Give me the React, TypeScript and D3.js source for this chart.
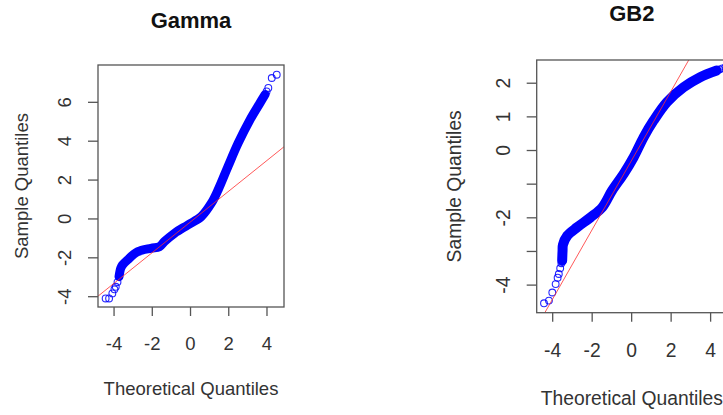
import React from "react";
import * as d3 from "d3";

// ---------- Data ----------
// Gamma panel: [theoretical quantile, sample quantile]
const gammaTailLow: [number, number][] = [
  [-4.44, -4.09], [-4.26, -4.09], [-4.09, -3.83], [-3.98, -3.62], [-3.91, -3.49], [-3.82, -3.25],
];
const gammaBand: [number, number][] = [
  [-3.74, -2.97], [-3.65, -2.54], [-3.56, -2.37], [-3.3, -2.11], [-2.77, -1.69],
  [-2.07, -1.51], [-1.63, -1.43], [-1.37, -1.17], [-0.84, -0.74], [-0.14, -0.31],
  [0.56, 0.12], [1.09, 0.81], [1.44, 1.49], [1.96, 2.7], [2.49, 3.9],
  [3.11, 5.1], [3.63, 5.96], [3.9, 6.4],
];
const gammaTailHigh: [number, number][] = [
  [3.98, 6.56], [4.07, 6.74], [4.25, 7.25], [4.51, 7.42],
];
const gammaLine = { intercept: -0.15, slope: 0.79 };

// GB2 panel
const gb2TailLow: [number, number][] = [
  [-4.44, -4.54], [-4.19, -4.46], [-4.02, -4.22], [-3.85, -3.97], [-3.75, -3.78],
  [-3.69, -3.67], [-3.62, -3.5], [-3.56, -3.35],
];
const gb2Band: [number, number][] = [
  [-3.52, -3.27], [-3.5, -2.98], [-3.48, -2.8], [-3.26, -2.53], [-2.76, -2.28],
  [-2.09, -1.99], [-1.49, -1.69], [-0.99, -1.19], [-0.4, -0.69], [0.1, -0.2],
  [0.61, 0.4], [1.11, 0.89], [1.79, 1.44], [2.63, 1.88], [3.47, 2.18],
  [4.31, 2.38],
];
const gb2TailHigh: [number, number][] = [[4.45, 2.41], [4.6, 2.44], [4.75, 2.47]];
const gb2Line = { intercept: -0.29, slope: 1.03 };

const gammaXTicks = [-4, -2, 0, 2, 4];
const gammaYTicks = [-4, -2, 0, 2, 4, 6];
const gammaYLabels = ["-4", "-2", "0", "2", "4", "6"];
const gb2XTicks = [-4, -2, 0, 2, 4];
const gb2YTicks = [-4, -3, -2, -1, 0, 1, 2];
const gb2YLabels = ["-4", "", "-2", "", "0", "1", "2"];

const FONT = "'Liberation Sans', Arial, sans-serif";
const TXT = "#333";
const BLUE = "#0000ff";

type PanelProps = {
  title: string;
  titleY: number;
  xDomain: [number, number];
  xRange: [number, number];
  yDomain: [number, number];
  yRange: [number, number];
  xTicks: number[];
  yTicks: number[];
  yLabels: string[];
  tailLow: [number, number][];
  band: [number, number][];
  tailHigh: [number, number][];
  line: { intercept: number; slope: number };
  bandWidth: number;
  fontSize: number;
  xTickBase: number;
  xLabelBase: number;
  yTickBase: number;
  yLabelBase: number;
  id: string;
};

function Panel(p: PanelProps) {
  const x = d3.scaleLinear().domain(p.xDomain).range(p.xRange);
  const y = d3.scaleLinear().domain(p.yDomain).range(p.yRange);
  const [x0, x1] = p.xRange;
  const [y1, y0] = p.yRange;
  const cx = (x0 + x1) / 2;
  const cy = (y0 + y1) / 2;
  const bandPath = d3
    .line<[number, number]>()
    .x((d) => x(d[0]))
    .y((d) => y(d[1]))
    .curve(d3.curveCatmullRom.alpha(0.5))(p.band) as string;
  const lx0 = p.xDomain[0];
  const lx1 = p.xDomain[1];
  const tick = 9;
  return (
    <g>
      <defs>
        <clipPath id={p.id}>
          <rect x={x0} y={y0} width={x1 - x0} height={y1 - y0} />
        </clipPath>
      </defs>
      <text
        x={cx}
        y={p.titleY}
        textAnchor="middle"
        fontFamily={FONT}
        fontWeight="bold"
        fontSize={22}
        fill="#111"
      >
        {p.title}
      </text>
      <g clipPath={`url(#${p.id})`}>
        <path d={bandPath} fill="none" stroke={BLUE} strokeWidth={p.bandWidth} strokeLinecap="round" strokeLinejoin="round" />
        {[...p.tailLow, ...p.tailHigh].map((d, i) => (
          <circle key={i} cx={x(d[0])} cy={y(d[1])} r={3.4} fill="none" stroke={BLUE} strokeWidth={1.1} opacity={0.85} />
        ))}
        <line
          x1={x(lx0)}
          y1={y(p.line.intercept + p.line.slope * lx0)}
          x2={x(lx1)}
          y2={y(p.line.intercept + p.line.slope * lx1)}
          stroke="#ff3030"
          strokeOpacity={0.8}
          strokeWidth={1}
        />
      </g>
      <rect x={x0} y={y0} width={x1 - x0} height={y1 - y0} fill="none" stroke="#555" strokeWidth={1.3} />
      {p.xTicks.map((t) => (
        <g key={"x" + t}>
          <line x1={x(t)} x2={x(t)} y1={y1} y2={y1 + tick} stroke="#555" strokeWidth={1.3} />
          <text x={x(t)} y={p.xTickBase} textAnchor="middle" fontFamily={FONT} fontSize={p.fontSize} fill={TXT}>
            {t < 0 ? "-" + Math.abs(t) : String(t)}
          </text>
        </g>
      ))}
      {p.yTicks.map((t, i) => (
        <g key={"y" + t}>
          <line x1={x0 - tick - 1} x2={x0} y1={y(t)} y2={y(t)} stroke="#555" strokeWidth={1.3} />
          {p.yLabels[i] !== "" && (
            <text
              transform={`translate(${p.yTickBase},${y(t)}) rotate(-90)`}
              textAnchor="middle"
              fontFamily={FONT}
              fontSize={p.fontSize}
              fill={TXT}
            >
              {p.yLabels[i]}
            </text>
          )}
        </g>
      ))}
      <text x={cx} y={p.xLabelBase} textAnchor="middle" fontFamily={FONT} fontSize={p.fontSize} fill={TXT}>
        Theoretical Quantiles
      </text>
      <text
        transform={`translate(${p.yLabelBase},${cy}) rotate(-90)`}
        textAnchor="middle"
        fontFamily={FONT}
        fontSize={p.fontSize}
        fill={TXT}
      >
        Sample Quantiles
      </text>
    </g>
  );
}

export default function App() {
  return (
    <svg
      width={723}
      height={415}
      style={{ position: "absolute", left: 0, top: 0, background: "#fff" }}
    >
      <rect width={723} height={415} fill="#fff" />
      <Panel
        id="clipGamma"
        title="Gamma"
        titleY={28}
        xDomain={[-4.84, 4.89]}
        xRange={[98, 284]}
        yDomain={[-4.53, 7.92]}
        yRange={[307, 65]}
        xTicks={gammaXTicks}
        yTicks={gammaYTicks}
        yLabels={gammaYLabels}
        tailLow={gammaTailLow}
        band={gammaBand}
        tailHigh={gammaTailHigh}
        line={gammaLine}
        bandWidth={9}
        fontSize={18.5}
        xTickBase={350}
        xLabelBase={395}
        yTickBase={70.5}
        yLabelBase={28}
      />
      <Panel
        id="clipGB2"
        title="GB2"
        titleY={21}
        xDomain={[-4.81, 4.83]}
        xRange={[536.7, 727]}
        yDomain={[-4.82, 2.69]}
        yRange={[312.7, 60]}
        xTicks={gb2XTicks}
        yTicks={gb2YTicks}
        yLabels={gb2YLabels}
        tailLow={gb2TailLow}
        band={gb2Band}
        tailHigh={gb2TailHigh}
        line={gb2Line}
        bandWidth={10}
        fontSize={19.3}
        xTickBase={357}
        xLabelBase={405}
        yTickBase={510}
        yLabelBase={461}
      />
    </svg>
  );
}
